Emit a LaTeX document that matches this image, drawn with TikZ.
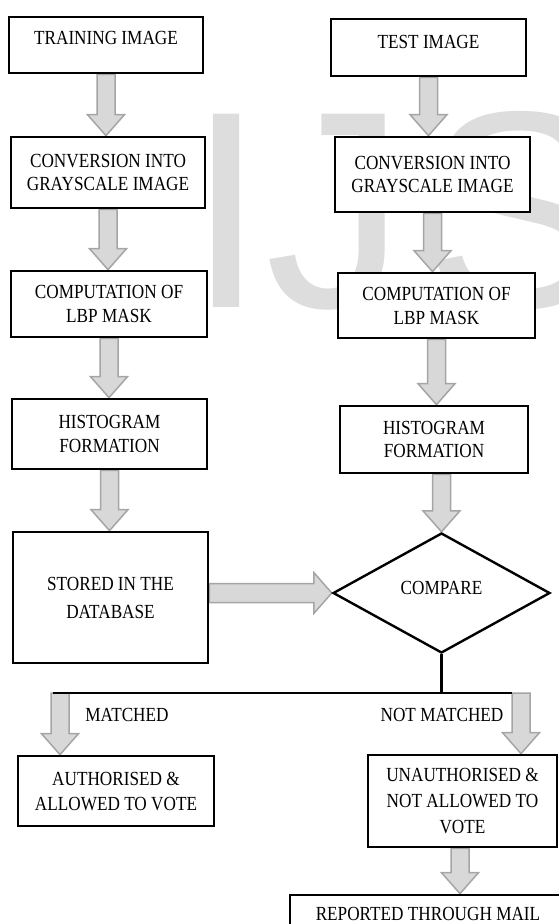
\documentclass[tikz,border=0pt]{standalone}
\usepackage{fontspec}
\setmainfont{Liberation Serif}[FakeStretch=0.86]
\newfontfamily\wmfont{Liberation Sans}
\usetikzlibrary{shapes.geometric,calc,backgrounds}
\definecolor{wmgray}{RGB}{221,221,221}
\definecolor{arrfill}{RGB}{216,216,216}
\definecolor{arrline}{RGB}{165,165,165}
% vertical block arrow: #1 = x reference, #2 = start (y), #3 = tip (y)
\newcommand\blkdown[3]{%
  \path[blk] let \p1=(#1), \p2=(#2), \p3=(#3) in
    (\x1-9pt,\y2) -- (\x1-9pt,\y3+21pt) -- (\x1-18.5pt,\y3+21pt) -- (\x1,\y3)
    -- (\x1+18.5pt,\y3+21pt) -- (\x1+9pt,\y3+21pt) -- (\x1+9pt,\y2) -- cycle;}
% horizontal block arrow: #1 = y reference, #2 = start (x), #3 = tip (x)
\newcommand\blkright[3]{%
  \path[blk] let \p1=(#1), \p2=(#2), \p3=(#3) in
    (\x2,\y1+9.5pt) -- (\x3-18pt,\y1+9.5pt) -- (\x3-18pt,\y1+20.5pt) -- (\x3,\y1)
    -- (\x3-18pt,\y1-20.5pt) -- (\x3-18pt,\y1-9.5pt) -- (\x2,\y1-9.5pt) -- cycle;}
\begin{document}
\begin{tikzpicture}[x=1pt,y=-1pt,
  box/.style={draw, line width=2.7pt, fill=white, align=center, inner sep=2pt,
    font=\fontsize{20}{23}\selectfont},
  blk/.style={fill=arrfill, draw=arrline, line width=1.5pt, line join=miter},
  wm/.style={text=wmgray, font=\wmfont\fontsize{281}{281}\selectfont, inner sep=0pt, anchor=base west},
  lbl/.style={font=\fontsize{20}{23}\selectfont, inner sep=0pt},
  junc/.style={draw, line width=2.4pt}]
\path[use as bounding box] (0,0) rectangle (559,924);
\clip (0,0) rectangle (559,924);

% watermark
\begin{scope}[on background layer]
  \node[wm] (wmI) at (187,307) {I};
  \node[wm] (wmJ) at (265,307) {J};
  \node[wm] (wmS) at (424,307) {S};
\end{scope}

% left column
\node[box, minimum width=194pt, text height=27pt, text depth=29pt, inner ysep=0pt] (train) at (106,45) {TRAINING IMAGE};
\node[box, minimum width=194pt, minimum height=71pt] (conv1) at (108,172.5) {CONVERSION INTO\\GRAYSCALE IMAGE};
\node[box, minimum width=196pt, minimum height=66pt, font=\fontsize{20}{24}\selectfont] (comp1) at (109,304) {COMPUTATION OF\\LBP MASK};
\node[box, minimum width=195pt, minimum height=70pt, font=\fontsize{20}{24}\selectfont] (hist1) at (109.5,434) {HISTOGRAM\\FORMATION};
\node[box, minimum width=195pt, minimum height=131pt, font=\fontsize{20}{28}\selectfont] (store) at (110.5,597.5) {STORED IN THE\\DATABASE};

% right column
\node[box, minimum width=195pt, text height=29pt, text depth=28pt, inner ysep=0pt] (test) at (428.5,47.5) {TEST IMAGE};
\node[box, minimum width=195pt, minimum height=75pt] (conv2) at (432.5,174.5) {CONVERSION INTO\\GRAYSCALE IMAGE};
\node[box, minimum width=197pt, minimum height=65pt, font=\fontsize{20}{24}\selectfont] (comp2) at (436.5,305.5) {COMPUTATION OF\\LBP MASK};
\node[box, minimum width=188pt, minimum height=67pt] (hist2) at (434,439.5) {HISTOGRAM\\FORMATION};

% decision
\node[shape=diamond, draw, line width=2.4pt, fill=white, minimum width=217pt, minimum height=120pt,
  inner sep=0pt, font=\fontsize{20}{23}\selectfont, text height=14pt, text depth=12pt] (cmp) at (441.5,593) {COMPARE};

% outcomes
\node[box, minimum width=196pt, minimum height=70pt, font=\fontsize{20}{25}\selectfont] (auth) at (116,791) {AUTHORISED \&\\ALLOWED TO VOTE};
\node[box, minimum width=189pt, minimum height=92pt, font=\fontsize{20}{26}\selectfont] (unauth) at (462.5,801) {UNAUTHORISED \&\\NOT ALLOWED TO\\VOTE};
\node[box, minimum width=276pt, text height=25pt, text depth=40pt, inner ysep=0pt] (report) at (428,927.5) {REPORTED THROUGH MAIL};

\node[lbl] (lm) at (127,715) {MATCHED};
\node[lbl] (lnm) at (442,715) {NOT MATCHED};

% junction
\coordinate (jl) at (53,693);
\coordinate (jr) at (512,693);
\coordinate (jm) at (cmp.south |- jl);
\coordinate (mx) at (60,693);
\coordinate (nx) at (521,693);
\draw[junc] (cmp.south) -- (jm);
\draw[junc] (jl) -- (jr);

% block arrows
\begin{scope}[on background layer]
  \blkdown{train.south}{train.south}{conv1.north}
  \blkdown{conv1.south}{conv1.south}{comp1.north}
  \blkdown{comp1.south}{comp1.south}{hist1.north}
  \blkdown{hist1.south}{hist1.south}{store.north}
  \blkdown{test.south}{test.south}{conv2.north}
  \blkdown{conv2.south}{conv2.south}{comp2.north}
  \blkdown{comp2.south}{comp2.south}{hist2.north}
  \blkdown{cmp.north}{hist2.south}{cmp.north}
  \blkright{cmp.west}{store.east}{cmp.west}
  \blkdown{mx}{mx}{auth.north}
  \blkdown{nx}{nx}{unauth.north}
  \blkdown{report.north -| 460,0}{unauth.south}{report.north}
\end{scope}
\end{tikzpicture}
\end{document}
